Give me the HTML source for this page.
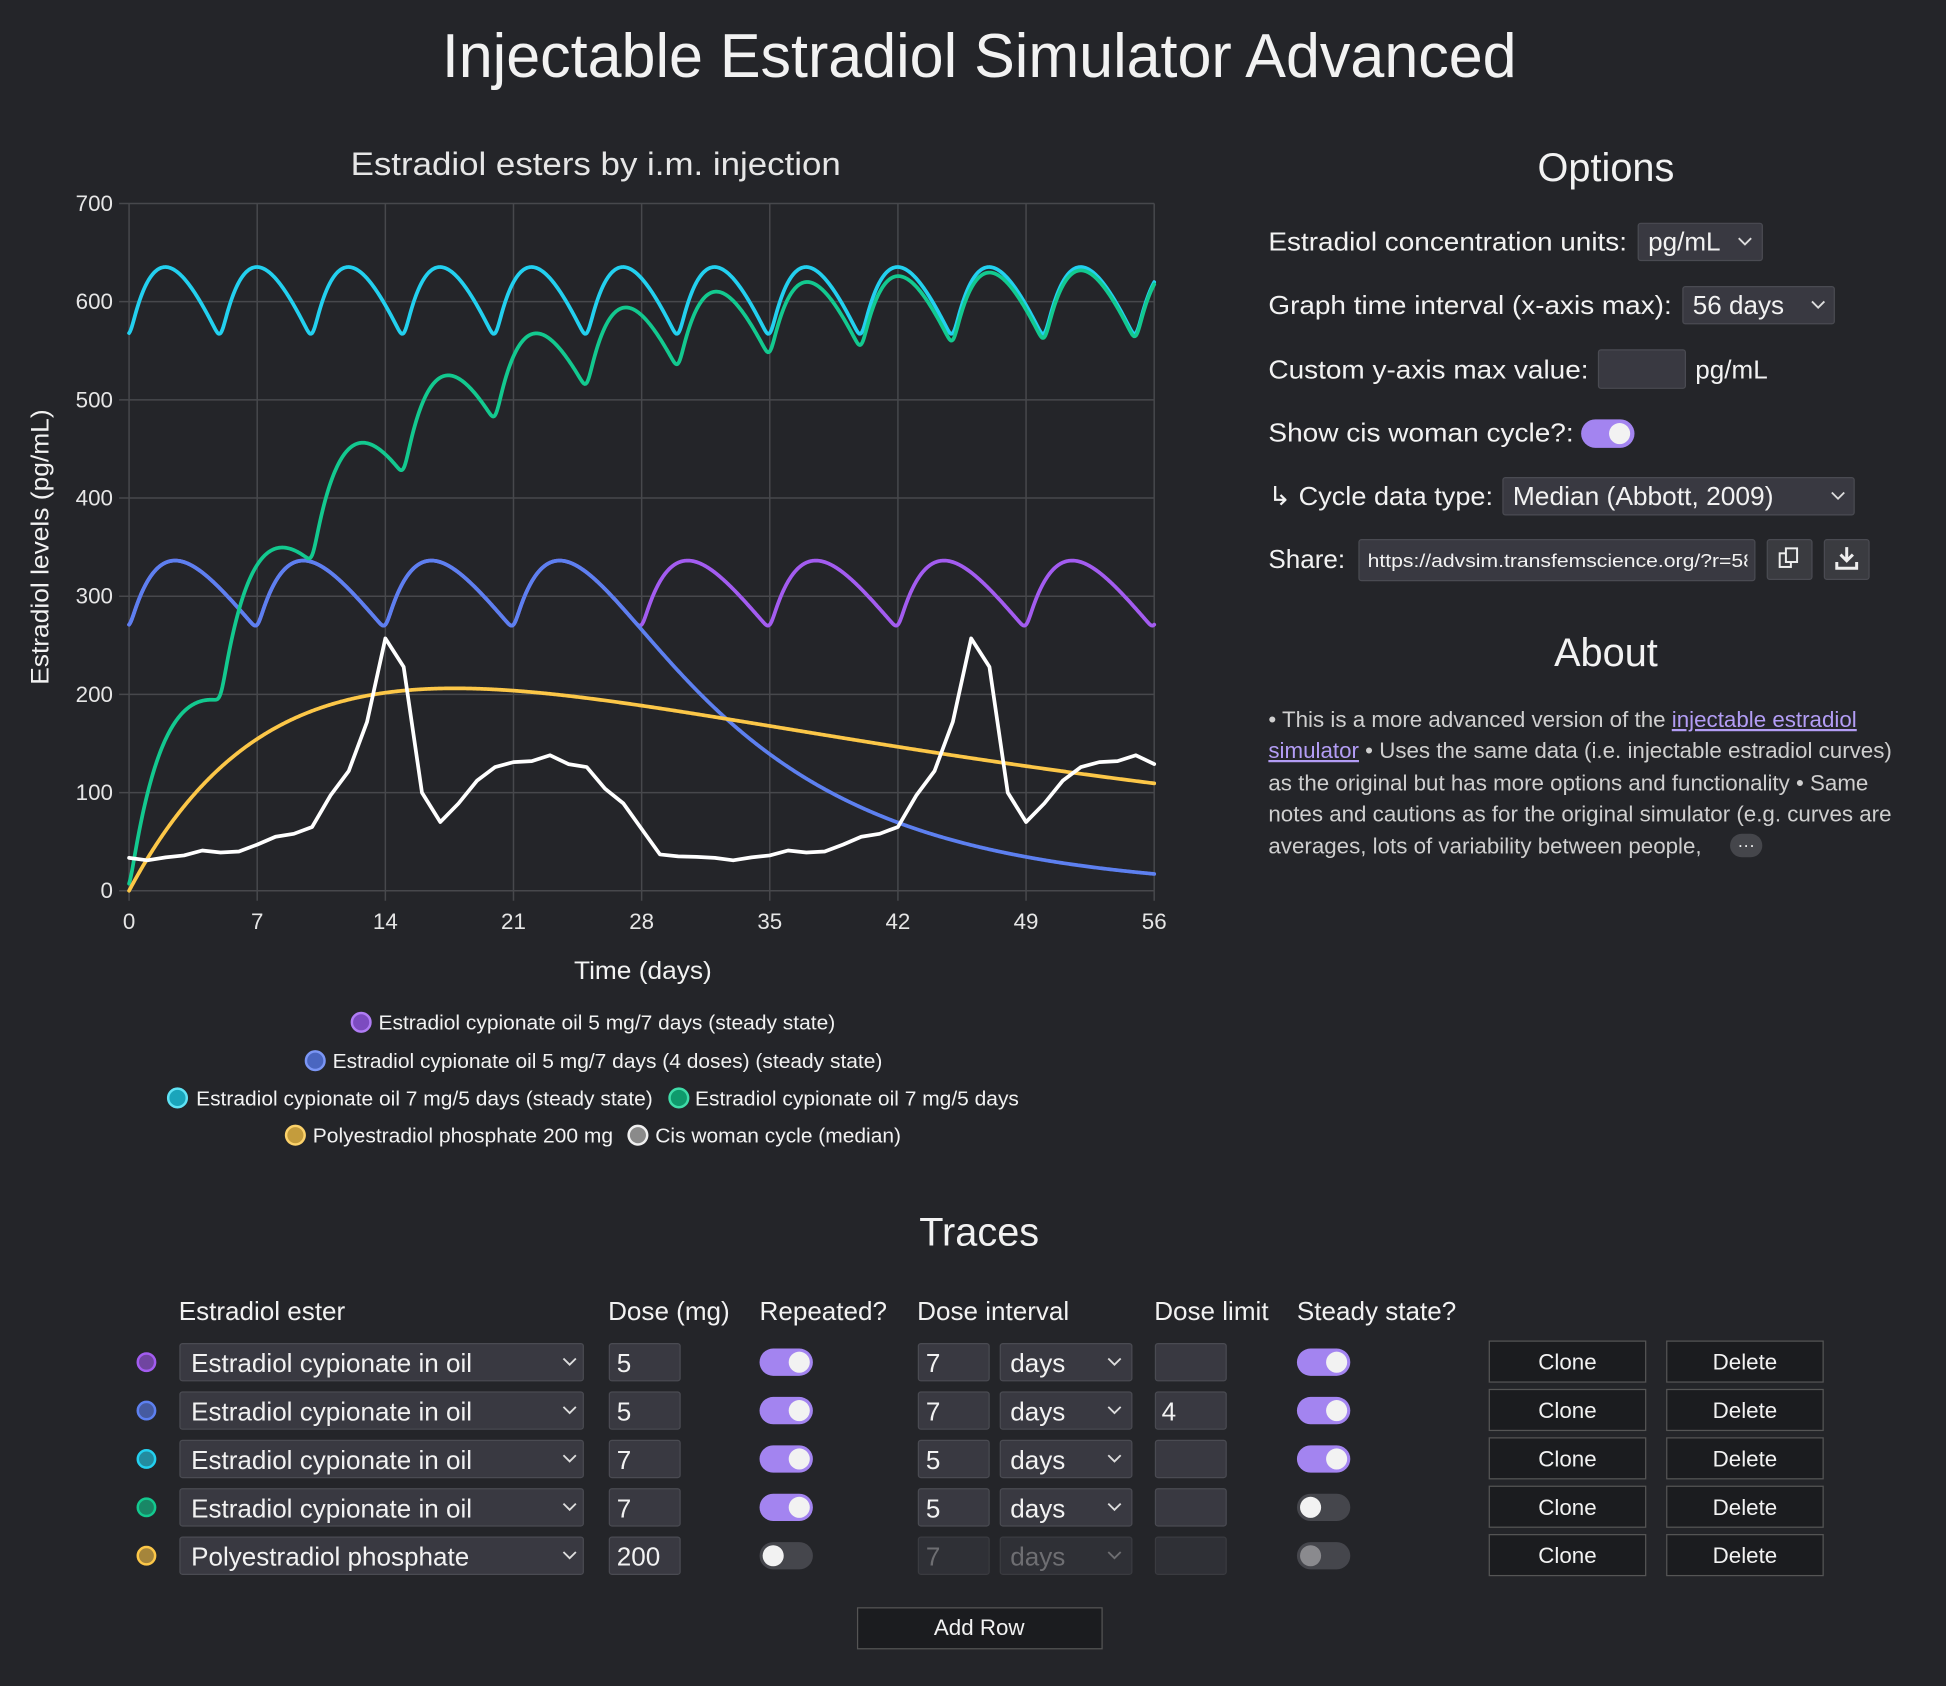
<!DOCTYPE html>
<html><head><meta charset="utf-8"><style>
html,body{margin:0;padding:0;background:#242529;}
svg{display:block;}
text{font-family:"Liberation Sans",Arial,sans-serif;}
</style></head><body>
<svg id="s" width="1946" height="1686" viewBox="0 0 1568 1359" preserveAspectRatio="none" xmlns="http://www.w3.org/2000/svg" fill="#f2f2f2">
<rect width="1568" height="1359" fill="#242529"/>
<text x="789" y="62" font-size="50" text-anchor="middle" textLength="866" lengthAdjust="spacingAndGlyphs">Injectable Estradiol Simulator Advanced</text>
<text x="480" y="141" font-size="26" text-anchor="middle" textLength="395" lengthAdjust="spacingAndGlyphs" fill="#e6e6e6">Estradiol esters by i.m. injection</text>
<g id="grid" stroke="#47484c" stroke-width="1.2"></g>
<g id="ticks" font-size="18" fill="#e6e6e6"></g>
<text transform="translate(39,441) rotate(-90)" font-size="20" text-anchor="middle" textLength="222" lengthAdjust="spacingAndGlyphs">Estradiol levels (pg/mL)</text>
<text x="518" y="789" font-size="20" text-anchor="middle" textLength="111" lengthAdjust="spacingAndGlyphs">Time (days)</text>
<defs><clipPath id="cp"><rect x="100" y="150" width="836" height="572"/></clipPath></defs>
<g id="curves" clip-path="url(#cp)" fill="none" stroke-width="3" stroke-linejoin="round" stroke-linecap="round"></g>

<g font-size="16.5">
<circle cx="291" cy="824" r="7.5" fill="#7c4bc0" stroke="#b07cf5" stroke-width="2"/>
<text x="305" y="830" textLength="368" lengthAdjust="spacingAndGlyphs">Estradiol cypionate oil 5 mg/7 days (steady state)</text>
<circle cx="254" cy="855" r="7.5" fill="#4a66c0" stroke="#7b96f5" stroke-width="2"/>
<text x="268" y="861" textLength="443" lengthAdjust="spacingAndGlyphs">Estradiol cypionate oil 5 mg/7 days (4 doses) (steady state)</text>
<circle cx="143" cy="885" r="7.5" fill="#1aa5bb" stroke="#5fe3f5" stroke-width="2"/>
<text x="158" y="891" textLength="368" lengthAdjust="spacingAndGlyphs">Estradiol cypionate oil 7 mg/5 days (steady state)</text>
<circle cx="547" cy="885" r="7.5" fill="#0f9a6c" stroke="#3fdca8" stroke-width="2"/>
<text x="560" y="891" textLength="261" lengthAdjust="spacingAndGlyphs">Estradiol cypionate oil 7 mg/5 days</text>
<circle cx="238" cy="915" r="7.5" fill="#c49c3c" stroke="#fcd26a" stroke-width="2"/>
<text x="252" y="921" textLength="242" lengthAdjust="spacingAndGlyphs">Polyestradiol phosphate 200 mg</text>
<circle cx="514" cy="915" r="7.5" fill="#8a8a8a" stroke="#f0f0f0" stroke-width="2"/>
<text x="528" y="921" textLength="198" lengthAdjust="spacingAndGlyphs">Cis woman cycle (median)</text>
</g>

<text x="1294" y="146" font-size="32" text-anchor="middle">Options</text>
<g font-size="21">
<text x="1022" y="202" textLength="289" lengthAdjust="spacingAndGlyphs">Estradiol concentration units:</text>
<rect x="1320" y="180" width="100" height="30" rx="2" fill="#393941" stroke="#4a4b52"/>
<text x="1328" y="202">pg/mL</text>
<path d="M1401 192l5 5 5-5" stroke="#ddd" stroke-width="1.5" fill="none"/>
<text x="1022" y="253" textLength="325" lengthAdjust="spacingAndGlyphs">Graph time interval (x-axis max):</text>
<rect x="1356" y="231" width="122" height="30" rx="2" fill="#393941" stroke="#4a4b52"/>
<text x="1364" y="253">56 days</text>
<path d="M1460 243l5 5 5-5" stroke="#ddd" stroke-width="1.5" fill="none"/>
<text x="1022" y="305" textLength="258" lengthAdjust="spacingAndGlyphs">Custom y-axis max value:</text>
<rect x="1288" y="282" width="70" height="31" rx="2" fill="#393941" stroke="#4a4b52"/>
<text x="1366" y="305">pg/mL</text>
<text x="1022" y="356" textLength="246" lengthAdjust="spacingAndGlyphs">Show cis woman cycle?:</text>
<rect x="1274" y="338" width="43" height="23" rx="11.5" fill="#a384f0"/>
<circle cx="1305" cy="349.5" r="8.5" fill="#f2f2f2"/>
<text x="1022" y="407" textLength="181" lengthAdjust="spacingAndGlyphs">↳ Cycle data type:</text>
<rect x="1211" y="385" width="283" height="30" rx="2" fill="#393941" stroke="#4a4b52"/>
<text x="1219" y="407" textLength="210" lengthAdjust="spacingAndGlyphs">Median (Abbott, 2009)</text>
<path d="M1476 397l5 5 5-5" stroke="#ddd" stroke-width="1.5" fill="none"/>
<text x="1022" y="458">Share:</text>
</g>
<rect x="1095" y="435" width="319" height="33" rx="2" fill="#393941" stroke="#4a4b52"/>
<svg x="1096" y="436" width="312" height="31"><text x="6" y="21" font-size="15" textLength="312" lengthAdjust="spacingAndGlyphs" fill="#f2f2f2">https://advsim.transfemscience.org/?r=58</text></svg>
<rect x="1424" y="435" width="36" height="32" rx="2" fill="#3a3b40" stroke="#4a4b52"/>
<rect x="1434" y="446" width="9" height="11" fill="none" stroke="#eee" stroke-width="1.6"/>
<rect x="1439" y="442" width="9" height="11" fill="#3a3b40" stroke="#eee" stroke-width="1.6"/>
<rect x="1470" y="435" width="36" height="32" rx="2" fill="#3a3b40" stroke="#4a4b52"/>
<path d="M1488 441v10M1483 447l5 5 5-5M1480 453v5h16v-5" stroke="#eee" stroke-width="2.4" fill="none"/>

<text x="1294" y="537" font-size="32" text-anchor="middle">About</text>
<g font-size="18" fill="#cfcfcf">
<text x="1022" y="586">• This is a more advanced version of the <tspan fill="#b39df5" text-decoration="underline">injectable estradiol</tspan></text>
<text x="1022" y="611"><tspan fill="#b39df5" text-decoration="underline">simulator</tspan> • Uses the same data (i.e. injectable estradiol curves)</text>
<text x="1022" y="637">as the original but has more options and functionality • Same</text>
<text x="1022" y="662">notes and cautions as for the original simulator (e.g. curves are</text>
<text x="1022" y="688">averages, lots of variability between people,</text>
</g>
<rect x="1394" y="672" width="26" height="19" rx="9.5" fill="#45464b"/>
<text x="1407" y="686" font-size="14" text-anchor="middle">···</text>

<text x="789" y="1004" font-size="32" text-anchor="middle">Traces</text>
<g font-size="21">
<text x="144" y="1064">Estradiol ester</text>
<text x="490" y="1064">Dose (mg)</text>
<text x="612" y="1064">Repeated?</text>
<text x="739" y="1064">Dose interval</text>
<text x="930" y="1064">Dose limit</text>
<text x="1045" y="1064">Steady state?</text>
</g>
<g id="rows"></g>
<rect x="691" y="1296" width="197" height="33" fill="#1b1c1f" stroke="#555" stroke-width="1"/>
<text x="789" y="1318" font-size="18" text-anchor="middle">Add Row</text>
</svg>
<script>
(function(){
var NS="http://www.w3.org/2000/svg";
function el(parent,tag,attrs,txt){var e=document.createElementNS(NS,tag);for(var k in attrs)e.setAttribute(k,attrs[k]);if(txt!=null)e.textContent=txt;parent.appendChild(e);return e;}
var X=function(d){return 104+d*826/56;},Y=function(v){return 718-v*554/700;};
var grid=document.getElementById('grid'),ticks=document.getElementById('ticks');
for(var d=0;d<=56;d+=7){el(grid,'line',{x1:X(d),y1:164,x2:X(d),y2:726});el(ticks,'text',{x:X(d),y:749,'text-anchor':'middle'},String(d));}
for(var v=0;v<=700;v+=100){el(grid,'line',{x1:96,y1:Y(v),x2:930,y2:Y(v)});el(ticks,'text',{x:91,y:Y(v)+6,'text-anchor':'end'},String(v));}
var ke=0.1,ka=0.42,K=400/7;
function s(dose,t){return t<0?0:K*dose*(Math.exp(-ke*t)-Math.exp(-ka*t));}
function rep(dose,tau,t,kmin,kmax){var sum=0,top=Math.floor(t/tau+1e-9);if(kmax!=null)top=Math.min(top,kmax);for(var k=kmin;k<=top;k++)sum+=s(dose,t-k*tau);return sum;}
var cyc=[33.5,31,34,36,41,39,40,47,55,58,65,97,122,172,257,228,100,70,89,112,126,131,132,138,129,126,104,89,63,37,35,34.5];
function cis(t){var L=cyc.length;var tt=t%L;var i=Math.floor(tt),f=tt-i;return cyc[i]*(1-f)+cyc[(i+1)%L]*f;}
function smooth(f){var sig=0.15,w=[],ws=0;for(var j=-10;j<=10;j++){var x=j*0.05;var q=Math.exp(-x*x/(2*sig*sig));w.push([x,q]);ws+=q;}
 return function(t){var a=0;for(var j=0;j<w.length;j++)a+=w[j][1]*f(t-w[j][0]);return a/ws;};}
var curves=[
 ['#a35cf0',smooth(function(t){return rep(5,7,t,-120);})],
 ['#5d80f0',smooth(function(t){return rep(5,7,t,-120,3);})],
 ['#23d0ef',smooth(function(t){return rep(7,5,t,-160);})],
 ['#13c98f',smooth(function(t){return rep(7,5,t,0);})],
 ['#fcc748',function(t){return 377*(Math.exp(-0.022*t)-Math.exp(-0.115*t));}]
];
var g=document.getElementById('curves');
curves.forEach(function(c){var d='';for(var i=0;i<=1120;i++){var t=56*i/1120;d+=(i?'L':'M')+X(t).toFixed(2)+','+Y(c[1](t)).toFixed(2);}el(g,'path',{d:d,stroke:c[0]});});
var d='';for(var i=0;i<=56;i++){d+=(i?'L':'M')+X(i).toFixed(2)+','+Y(cis(i)).toFixed(2);}el(g,'path',{d:d,stroke:'#ffffff'});
var R=document.getElementById('rows');
var rows=[
 ['#a35cf0','Estradiol cypionate in oil','5',1,'7','',1,0],
 ['#5d80f0','Estradiol cypionate in oil','5',1,'7','4',1,0],
 ['#23d0ef','Estradiol cypionate in oil','7',1,'5','',1,0],
 ['#13c98f','Estradiol cypionate in oil','7',1,'5','',0,0],
 ['#fcc748','Polyestradiol phosphate','200',0,'7','',0,1]
];
var ys=[1098,1137,1176,1215,1254];
function box(x,w,y,dis){el(R,'rect',{x:x,y:y-15,width:w,height:30,rx:2,fill:dis?'#2f3036':'#393941',stroke:dis?'#3a3b40':'#4a4b52'});}
function chev(x,y,col){el(R,'path',{d:'M'+(x-5)+' '+(y-3)+'l5 5 5-5',stroke:col,'stroke-width':1.5,fill:'none'});}
function tog(x,y,on,dis){el(R,'rect',{x:x,y:y-11,width:43,height:22,rx:11,fill:on?'#a384f0':'#45464c'});el(R,'circle',{cx:on?x+32:x+11,cy:y,r:8.5,fill:dis?'#8a8a8e':'#f2f2f2'});}
rows.forEach(function(r,i){var y=ys[i];
 el(R,'circle',{cx:118,cy:y,r:7,fill:r[0],'fill-opacity':0.6,stroke:r[0],'stroke-width':2});
 box(145,325,y);el(R,'text',{x:154,y:y+8,'font-size':21},r[1]);chev(459,y,'#ddd');
 box(491,57,y);el(R,'text',{x:497,y:y+8,'font-size':21},r[2]);
 tog(612,y,r[3],0);
 var dis=r[7];
 box(740,57,y,dis);el(R,'text',{x:746,y:y+8,'font-size':21,fill:dis?'#6e6e72':'#f2f2f2'},r[4]);
 box(806,106,y,dis);el(R,'text',{x:814,y:y+8,'font-size':21,fill:dis?'#6e6e72':'#f2f2f2'},'days');chev(898,y,dis?'#6e6e72':'#ddd');
 box(931,57,y,dis);if(r[5])el(R,'text',{x:936,y:y+8,'font-size':21},r[5]);
 tog(1045,y,r[6],dis);
 el(R,'rect',{x:1200,y:y-17,width:126,height:33,fill:'#1b1c1f',stroke:'#555'});el(R,'text',{x:1263,y:y+6,'font-size':18,'text-anchor':'middle'},'Clone');
 el(R,'rect',{x:1343,y:y-17,width:126,height:33,fill:'#1b1c1f',stroke:'#555'});el(R,'text',{x:1406,y:y+6,'font-size':18,'text-anchor':'middle'},'Delete');
});
})();
</script>
</body></html>
